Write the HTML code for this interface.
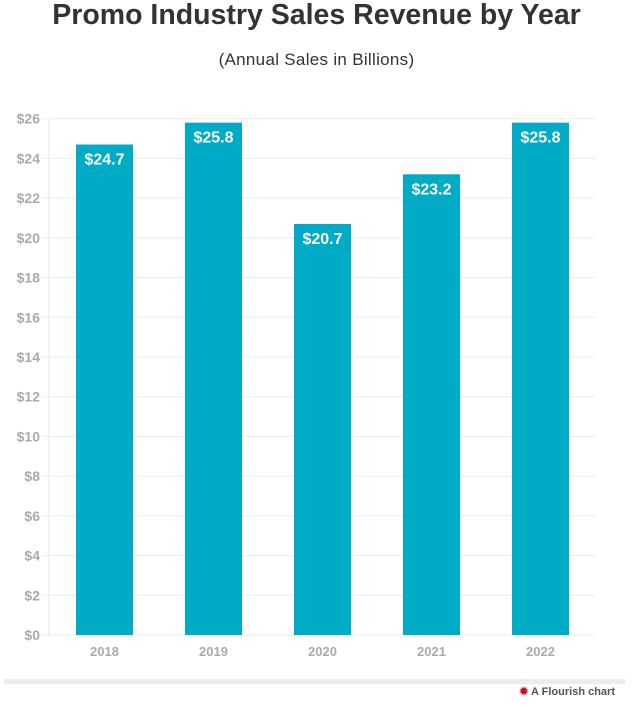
<!DOCTYPE html>
<html><head><meta charset="utf-8">
<style>
body{margin:0;width:633px;height:708px;background:#fff;overflow:hidden;font-family:"Liberation Sans",sans-serif;}
#title{position:absolute;top:-1px;left:0;width:633px;text-align:center;font-weight:bold;font-size:28.5px;color:#333;letter-spacing:0px;}
#sub{position:absolute;top:50px;left:0;width:633px;text-align:center;font-size:17px;color:#333;letter-spacing:0.3px;}
#band{position:absolute;left:4px;top:679px;width:621px;height:5px;background:#ececec;}
#credit{position:absolute;right:18px;top:685px;font-size:11px;color:#555;font-weight:bold;}
#credit span{color:#c8102e;}
</style></head><body>
<div id="title">Promo Industry Sales Revenue by Year</div>
<div id="sub">(Annual Sales in Billions)</div>
<svg id="chart" width="633" height="708" style="position:absolute;left:0;top:0"></svg>
<div id="band"></div>
<div id="credit"><span>✹</span> A Flourish chart</div>
<script>
const categories=["2018","2019","2020","2021","2022"];
const values=[24.7,25.8,20.7,23.2,25.8];
const valueLabels=["$24.7","$25.8","$20.7","$23.2","$25.8"];
const ticks=[0,2,4,6,8,10,12,14,16,18,20,22,24,26];
const svg=document.getElementById('chart');
const NS='http://www.w3.org/2000/svg';
const x0=50,x1=595,y0=635,yTop=118.7,maxV=26;
function y(v){return y0-(v/maxV)*(y0-yTop);}
const band=(x1-x0)/categories.length;
function xc(i){return x0+band*(i+0.5);}
function mk(t,a){const e=document.createElementNS(NS,t);for(const k in a)e.setAttribute(k,a[k]);svg.appendChild(e);return e;}
ticks.forEach(t=>{
 const g=mk('line',{x1:42,x2:x1,y1:y(t),y2:y(t),stroke:'#ebebeb','stroke-width':1});
 
 
 const l=mk('text',{x:40,y:y(t)+5,'text-anchor':'end','font-size':14,'font-weight':'bold',fill:'#aaa','font-family':'Liberation Sans, sans-serif'});
 l.textContent='$'+t;
 
 
});
const ax=mk('line',{x1:49,x2:49,y1:yTop,y2:y0,stroke:'#e6e6e6','stroke-width':1});


const bw=57;
categories.forEach((c,i)=>{
 const r=mk('rect',{x:xc(i)-bw/2,y:y(values[i]),width:bw,height:y0-y(values[i]),fill:'#00abc5'});
 
 
 const v=mk('text',{x:xc(i),y:y(values[i])+20,'text-anchor':'middle','font-size':16,'font-weight':'bold',fill:'#fff','font-family':'Liberation Sans, sans-serif'});
 v.textContent=valueLabels[i];
 
 
 const t=mk('text',{x:xc(i),y:656,'text-anchor':'middle','font-size':13,'font-weight':'bold',fill:'#aaa','font-family':'Liberation Sans, sans-serif'});
 t.textContent=c;
 
 
});
</script>
</body></html>
